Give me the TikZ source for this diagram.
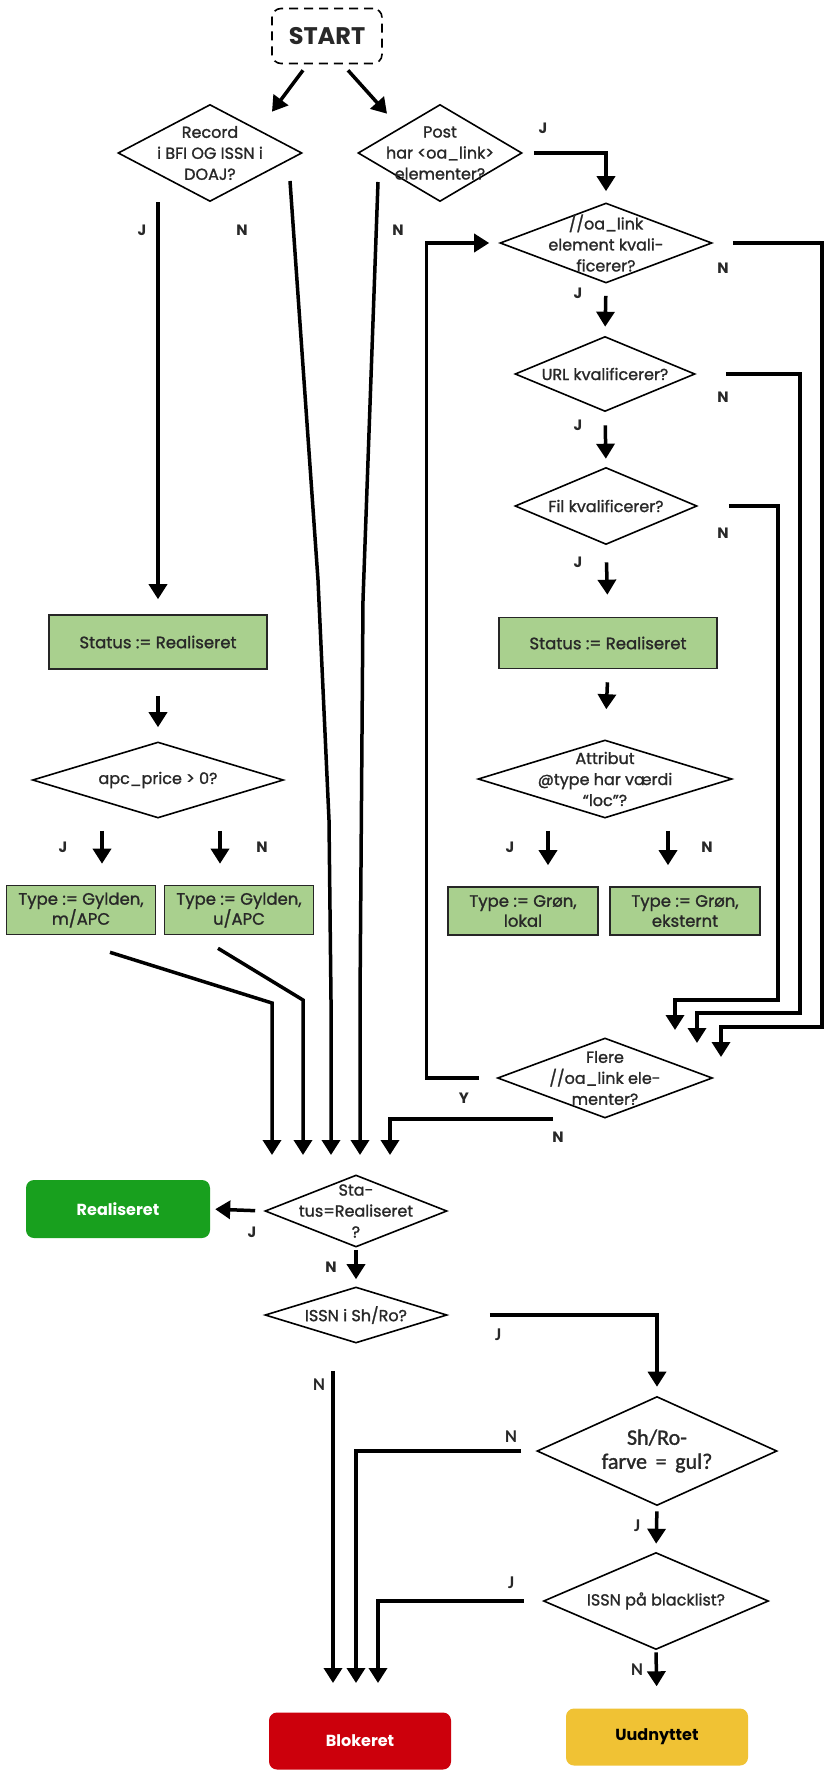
\documentclass[tikz,border=0pt]{standalone}
\usepackage{fontspec}
\setmainfont{Poppins}
\newfontfamily\medfont{Poppins}[FakeBold=1.3]
\newfontfamily\calfont{Carlito}
\newfontfamily\calmed{Carlito}[FakeBold=1.3]
\usetikzlibrary{shapes.geometric,arrows.meta}

\definecolor{boxgreen}{RGB}{169,208,142}
\definecolor{okgreen}{RGB}{24,160,30}
\definecolor{blockred}{RGB}{204,0,12}
\definecolor{unusedyellow}{RGB}{240,194,52}
\definecolor{textgray}{RGB}{40,40,40}

\begin{document}
\begin{tikzpicture}[x=1pt,y=-1pt,
	startbox/.style={draw,dash pattern=on 9pt off 6pt,rounded corners=9pt,line width=1.6pt,minimum width=110,minimum height=55,font=\bfseries\fontsize{24}{26}\selectfont,text=textgray},
	decision/.style={diamond,draw,line width=1.6pt,inner sep=0pt,fill=white},
	dtext/.style={align=center,font=\medfont\fontsize{16}{21}\selectfont,text=textgray},
	caltext/.style={align=center,font=\calmed\fontsize{22}{24}\selectfont,text=textgray},
	action/.style={draw=black!85,line width=1.6pt,fill=boxgreen,align=center,font=\medfont\fontsize{16.5}{20}\selectfont,text=textgray},
	result/.style={rounded corners=8pt,minimum width=182,minimum height=57,font=\bfseries\fontsize{16}{18}\selectfont},
	flow/.style={line width=3.5pt,-{Triangle[width=18pt,length=15pt]}},
	lab/.style={font=\bfseries\fontsize{15}{17}\selectfont,text=textgray},
	callab/.style={font=\calfont\bfseries\fontsize{18}{20}\selectfont,text=textgray}]

	\useasboundingbox[fill=white] (0,0) rectangle (826,1776);

	\node (start) [startbox] at (327,36) {START};

	\node (d1) [decision,minimum width=184,minimum height=97,label={[dtext]center:Record\\i BFI OG ISSN i\\DOAJ?}] at (210,153) {};
	\node (d2) [decision,minimum width=164,minimum height=97,label={[dtext]center:Post\\har <oa\_link>\\elementer?}] at (440,153) {};
	\node (d3) [decision,minimum width=212,minimum height=80,label={[dtext]center://oa\_link\\element kvali-\\ficerer?}] at (606,243) {};
	\node (d4) [decision,minimum width=180,minimum height=75,label={[dtext]center:URL kvalificerer?}] at (605,374) {};
	\node (d5) [decision,minimum width=182,minimum height=77,label={[dtext]center:Fil kvalificerer?}] at (606,506) {};
	\node (sr2) [action,minimum width=218,minimum height=51] at (608,643) {Status := Realiseret};
	\node (d6) [decision,minimum width=254,minimum height=78,label={[dtext]center:Attribut\\@type har værdi\\“loc”?}] at (605,779) {};
	\node (gl) [action,minimum width=150,minimum height=48] at (523,911) {Type := Grøn,\\lokal};
	\node (ge) [action,minimum width=150,minimum height=48] at (685,911) {Type := Grøn,\\eksternt};

	\node (sr1) [action,minimum width=218,minimum height=54] at (158,642) {Status := Realiseret};
	\node (apc) [decision,minimum width=251,minimum height=76,label={[dtext]center:apc\_price > 0?}] at (158,780) {};
	\node (gm) [action,minimum width=149,minimum height=49] at (81,910) {Type := Gylden,\\m/APC};
	\node (gu) [action,minimum width=149,minimum height=49] at (239,910) {Type := Gylden,\\u/APC};

	\node (d7) [decision,minimum width=215,minimum height=80,label={[dtext]center:Flere\\//oa\_link ele-\\menter?}] at (605,1078) {};
	\node (d8) [decision,minimum width=182,minimum height=72,label={[dtext]center:Sta-\\tus=Realiseret\\?}] at (356,1211) {};
	\node (real) [result,fill=okgreen,text=white,minimum width=184,minimum height=58] at (118,1209) {Realiseret};
	\node (d9) [decision,minimum width=182,minimum height=56,label={[dtext]center:ISSN i Sh/Ro?}] at (356,1315) {};
	\node (d10) [decision,minimum width=240,minimum height=109,label={[caltext]center:Sh/Ro-\\farve \,=\, gul?}] at (657,1451) {};
	\node (d11) [decision,minimum width=225,minimum height=97,label={[dtext]center:ISSN på blacklist?}] at (656,1601) {};
	\node (block) [result,fill=blockred,text=white] at (360,1741) {Blokeret};
	\node (unused) [result,fill=unusedyellow,text=black] at (657,1737) {Uudnyttet};

	\coordinate (in1) at (272,1155);
	\coordinate (in2) at (303,1155);
	\coordinate (in3) at (331,1155);
	\coordinate (in4) at (360,1155);
	\coordinate (in5) at (390,1155);
	\coordinate (r1) at (675,1030);
	\coordinate (r2) at (697,1043);
	\coordinate (r3) at (721,1057);
	\coordinate (b1) at (333,1683);
	\coordinate (b2) at (356,1683);
	\coordinate (b3) at (378,1683);

	\draw [flow] ([shift={(-24,6)}]start.south) -- ([shift={(62,8)}]d1.north);
	\draw [flow] ([shift={(21,6)}]start.south) -- ([shift={(-53,10)}]d2.north);

	\draw [flow,shorten >=15] (d1.south -| sr1.north) -- (sr1.north);
	\draw [flow] ([shift={(80,28)}]d1.center) -- (318,580) -- (329,820) -- (331,1000) -- (in3);
	\draw [flow] ([shift={(-62,29)}]d2.center) -- (363,600) -- (360,1000) -- (in4);
	\draw [flow,shorten <=11,shorten >=11] (d2.east) -| (d3.north);

	\draw [flow,shorten <=12,shorten >=9] (d3.south) -- (d4.north);
	\draw [flow,shorten <=13,shorten >=8] (d4.south) -- (d5.north);
	\draw [flow,shorten <=17,shorten >=22] (d5.south) -- (sr2.north);
	\draw [flow,shorten <=13,shorten >=30] (sr2.south) -- (d6.north);
	\draw [flow,shorten >=21] ([shift={(-57,12)}]d6.south) coordinate (aj) -- (aj |- gl.north);
	\draw [flow,shorten >=21] ([shift={(63,12)}]d6.south) coordinate (an) -- (an |- ge.north);

	\draw [flow,shorten <=26,shorten >=14] (sr1.south) -- (apc.north);
	\draw [flow,shorten >=21] ([shift={(-56,12)}]apc.south) coordinate (pj) -- (pj |- gm.north);
	\draw [flow,shorten >=21] ([shift={(62,12)}]apc.south) coordinate (pn) -- (pn |- gu.north);
	\draw [flow] ([shift={(29,17)}]gm.south) -- (272,1003) -- (in1);
	\draw [flow] ([shift={(-21,13)}]gu.south) -- (303,1000) -- (in2);

	\draw [flow,shorten <=20] (d3.east) -| (822,1027) -| (r3);
	\draw [flow,shorten <=30] (d4.east) -| (800,1013) -| (r2);
	\draw [flow,shorten <=31] (d5.east) -| (778,1000) -| (r1);

	\draw [flow,shorten <=18,shorten >=10] (d7.west) -- ++(-70,0) |- (d3.west);
	\draw [flow] ([xshift=-52pt]d7.south) -| (in5);

	\draw [flow,shorten <=9,shorten >=5] (d8.west) -- (real.east);
	\draw [flow,shorten <=2,shorten >=7] (d8.south) -- (d9.north);
	\draw [flow,shorten <=42,shorten >=9] (d9.east) -| (d10.north);
	\draw [flow] ([shift={(-23,27)}]d9.south) -- (b1);
	\draw [flow,shorten <=15] (d10.west) -| (b2);
	\draw [flow,shorten <=5,shorten >=8] (d10.south) -- (d11.north);
	\draw [flow,shorten <=19] (d11.west) -| (b3);
	\draw [flow,shorten <=2,shorten >=22] (d11.south) -- (unused.north);

	\node (j1) [lab] at (142,230) {J};
	\node (n1) [lab] at (242,230) {N};
	\node (n2) [lab] at (398,230) {N};
	\node (j2) [lab] at (543,128) {J};
	\node (n3) [lab] at (723,268) {N};
	\node (j3) [lab] at (578,293) {J};
	\node (n4) [lab] at (723,397) {N};
	\node (j4) [lab] at (578,425) {J};
	\node (n5) [lab] at (723,533) {N};
	\node (j5) [lab] at (578,562) {J};
	\node (j6) [lab] at (63,847) {J};
	\node (n6) [lab] at (262,847) {N};
	\node (j7) [lab] at (510,847) {J};
	\node (n7) [lab] at (707,847) {N};
	\node (y8) [lab] at (464,1098) {Y};
	\node (n8) [lab] at (558,1137) {N};
	\node (j9) [lab] at (252,1232) {J};
	\node (n9) [lab] at (331,1267) {N};
	\node (j10) [callab] at (498,1335) {J};
	\node (n10) [callab] at (319,1385) {N};
	\node (n11) [callab] at (511,1437) {N};
	\node (j11) [callab] at (637,1526) {J};
	\node (j12) [callab] at (511,1583) {J};
	\node (n12) [callab] at (637,1670) {N};

\end{tikzpicture}
\end{document}
